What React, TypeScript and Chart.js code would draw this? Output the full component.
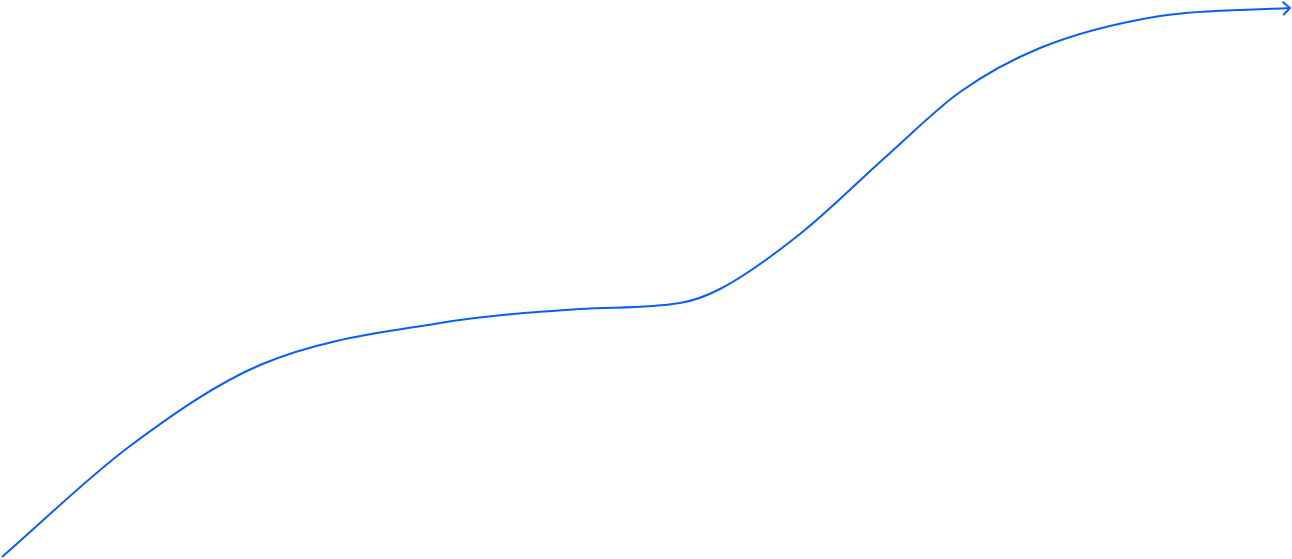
import React, { useEffect, useRef } from "react";
import { Chart, registerables } from "chart.js";

Chart.register(...registerables);

// Positions along the horizontal axis (arbitrary units, 0..1292)
const xValues = [2, 130, 260, 440, 580, 680, 720, 800, 890, 960, 1040, 1160, 1290];
// Series values (0..559)
const yValues = [2, 113, 194, 236, 250, 256, 270, 325, 406, 467, 511, 543, 551];

const LINE_COLOR = "#0a5ef2";

const arrowPlugin = {
  id: "arrowHead",
  afterDatasetsDraw(chart: any) {
    const meta = chart.getDatasetMeta(0);
    const pts = meta.data;
    if (!pts || pts.length < 2) return;
    const last = pts[pts.length - 1];
    const prev = pts[pts.length - 2];
    const cp = last.cp1x !== undefined ? { x: last.cp1x, y: last.cp1y } : { x: prev.x, y: prev.y };
    let ang = Math.atan2(last.y - cp.y, last.x - cp.x);
    if (!isFinite(ang)) ang = 0;
    const len = 9;
    const spread = Math.PI / 4.2;
    const ctx = chart.ctx;
    ctx.save();
    ctx.strokeStyle = LINE_COLOR;
    ctx.lineWidth = 2;
    ctx.lineCap = "round";
    ctx.lineJoin = "round";
    ctx.beginPath();
    ctx.moveTo(last.x - len * Math.cos(ang - spread), last.y - len * Math.sin(ang - spread));
    ctx.lineTo(last.x, last.y);
    ctx.lineTo(last.x - len * Math.cos(ang + spread), last.y - len * Math.sin(ang + spread));
    ctx.stroke();
    ctx.restore();
  },
};

export default function App() {
  const ref = useRef<HTMLCanvasElement | null>(null);
  useEffect(() => {
    document.body.style.margin = "0";
    const canvas = ref.current;
    if (!canvas) return;
    const chart = new Chart(canvas, {
      type: "line",
      data: {
        datasets: [
          {
            data: xValues.map((x, i) => ({ x, y: yValues[i] })),
            borderColor: LINE_COLOR,
            borderWidth: 2,
            pointRadius: 0,
            fill: false,
            cubicInterpolationMode: "monotone",
            clip: false as any,
          },
        ],
      },
      options: {
        animation: false,
        responsive: false,
        maintainAspectRatio: false,
        layout: { padding: 0 },
        plugins: { legend: { display: false }, tooltip: { enabled: false }, title: { display: false } },
        scales: {
          x: { type: "linear", min: 0, max: 1292, display: false },
          y: { type: "linear", min: 0, max: 559, display: false },
        },
      },
      plugins: [arrowPlugin],
    });
    return () => chart.destroy();
  }, []);
  return (
    <div style={{ position: "fixed", left: 0, top: 0, width: 1292, height: 559, background: "#fff" }}>
      <canvas ref={ref} width={1292} height={559} style={{ display: "block", width: 1292, height: 559 }} />
    </div>
  );
}
